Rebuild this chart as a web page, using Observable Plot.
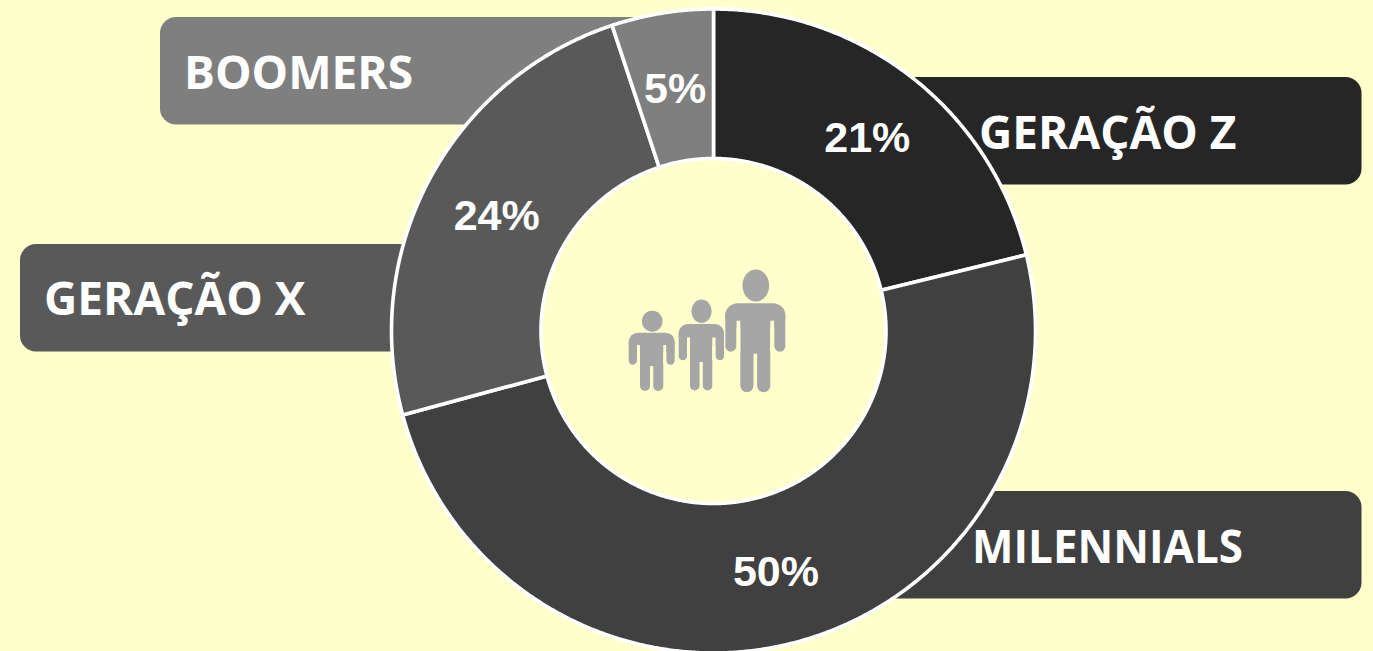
<!DOCTYPE html>
<html>
<head>
<meta charset="utf-8">
<style>html,body{margin:0;padding:0;background:#ffffcc;overflow:hidden}svg{display:block}</style>
<script src="https://cdn.jsdelivr.net/npm/d3@7"></script>
<script src="https://cdn.jsdelivr.net/npm/@observablehq/plot@0.6"></script>
</head>
<body>
<div id="chart"></div>
<script>
// Data
const categories = ["GERAÇÃO Z", "MILENNIALS", "GERAÇÃO X", "BOOMERS"];
const shares = [21.2, 49.6, 24.1, 5.1];
const percentLabels = ["21%", "50%", "24%", "5%"];
const colors = ["#262626", "#404040", "#595959", "#7f7f7f"];

// Layout
const W = 1373, H = 651;
const cx = 713, cy = 330.5, outerR = 322, innerR = 172.5;
const boxLayout = [
  {x1: 890, x2: 1361.5, y1: 77, y2: 184.5, tx: 978.5, ty: 133.5},
  {x1: 860, x2: 1361.5, y1: 491, y2: 598.5, tx: 971.5, ty: 548},
  {x1: 20, x2: 430, y1: 244, y2: 351.5, tx: 43.5, ty: 300},
  {x1: 160, x2: 660, y1: 17, y2: 124.5, tx: 183.5, ty: 73.5}
];

// Ring segments from shares
const total = d3.sum(shares);
const pieces = [];
const labelPos = [];
let running = 0;
categories.forEach((category, i) => {
  const a0 = running / total * 2 * Math.PI;
  running += shares[i];
  const a1 = running / total * 2 * Math.PI;
  const n = Math.max(8, Math.ceil((a1 - a0) / 0.006));
  const polar = (r, a) => ({category, x: cx + r * Math.sin(a), y: cy - r * Math.cos(a)});
  for (let k = 0; k <= n; ++k) pieces.push(polar(outerR, a0 + (a1 - a0) * k / n));
  for (let k = n; k >= 0; --k) pieces.push(polar(innerR, a0 + (a1 - a0) * k / n));
  const mid = (a0 + a1) / 2, rm = (outerR + innerR) / 2;
  labelPos.push({text: percentLabels[i], x: cx + 1 + rm * Math.sin(mid), y: cy - rm * Math.cos(mid) + 2});
});

const boxes = categories.map((category, i) => ({category, ...boxLayout[i]}));

// Icon: three figures
const iconColor = "#a6a6a6";
const figures = [
  {hx: 651.7, hy: 320.7, hrx: 10.3, hry: 10.5, l: 628.7, r: 674.7, top: 332.7, pit: 345, arm: 8.3, armEnd: 364.7, tl: 640, tr: 663.3, crotch: 364, gap: 3.2, foot: 391},
  {hx: 701, hy: 310.7, hrx: 10, hry: 11.7, l: 678.7, r: 724, top: 324, pit: 337.5, arm: 8.3, armEnd: 360.3, tl: 690, tr: 712.3, crotch: 360, gap: 3.2, foot: 390.5},
  {hx: 755.3, hy: 285, hrx: 13.3, hry: 16, l: 725.3, r: 785.3, top: 303.3, pit: 320.7, arm: 11, armEnd: 351.7, tl: 740.3, tr: 770.3, crotch: 351.7, gap: 3.6, foot: 392.3}
];
const shoulders = figures.map(f => ({x1: f.l, x2: f.r, y1: f.top, y2: f.pit + 8, rx: f.arm * 1.1}));
const torsos = figures.map(f => ({x1: f.tl, x2: f.tr, y1: f.top + 4, y2: f.crotch + 2}));
const pitGaps = figures.flatMap(f => [
  {x1: f.l + f.arm, x2: f.tl, y1: f.pit, y2: f.armEnd + 6},
  {x1: f.tr, x2: f.r - f.arm, y1: f.pit, y2: f.armEnd + 6}
]);
const limbs = figures.flatMap(f => {
  const mid = (f.tl + f.tr) / 2;
  const legW = mid - f.gap / 2 - f.tl;
  return [
    {x1: f.l, x2: f.l + f.arm, y1: f.top + 6, y2: f.armEnd, rx: f.arm / 2},
    {x1: f.r - f.arm, x2: f.r, y1: f.top + 6, y2: f.armEnd, rx: f.arm / 2},
    {x1: f.tl, x2: mid - f.gap / 2, y1: f.crotch - 4, y2: f.foot, rx: legW / 2},
    {x1: mid + f.gap / 2, x2: f.tr, y1: f.crotch - 4, y2: f.foot, rx: legW / 2}
  ];
});
const heads = figures.flatMap((f, j) => d3.range(73).map(k => ({
  j, x: f.hx + f.hrx * Math.cos(k / 36 * Math.PI), y: f.hy + f.hry * Math.sin(k / 36 * Math.PI)
})));
const rectOf = (r, fill) => Plot.rect([r], {x1: "x1", x2: "x2", y1: "y1", y2: "y2", fill, rx: r.rx ?? 0});

const chart = Plot.plot({
  width: W, height: H,
  margin: 0,
  style: {background: "#ffffcc"},
  x: {domain: [0, W], range: [0, W], axis: null},
  y: {domain: [0, H], range: [0, H], axis: null},
  color: {type: "ordinal", domain: categories, range: colors},
  marks: [
    Plot.rect(boxes, {x1: "x1", x2: "x2", y1: "y1", y2: "y2", fill: "category", rx: 16}),
    Plot.line(pieces, {x: "x", y: "y", z: "category", fill: "category", stroke: "#ffffff", strokeWidth: 3.6, curve: "linear-closed"}),
    Plot.text(boxes, {x: "tx", y: "ty", text: "category", fill: "#ffffff", textAnchor: "start", fontSize: 46, fontWeight: 700, fontFamily: "Open Sans"}),
    Plot.text(labelPos, {x: "x", y: "y", text: "text", fill: "#ffffff", fontSize: 43, fontWeight: 700, fontFamily: "Liberation Sans"}),
    ...shoulders.map(r => rectOf(r, iconColor)),
    ...torsos.map(r => rectOf(r, iconColor)),
    Plot.rect(pitGaps, {x1: "x1", x2: "x2", y1: "y1", y2: "y2", fill: "#ffffcc"}),
    ...limbs.map(r => rectOf(r, iconColor)),
    Plot.line(heads, {x: "x", y: "y", z: "j", fill: iconColor, stroke: "none", curve: "linear-closed"})
  ]
});
document.getElementById("chart").appendChild(chart);
// The reference's MILENNIALS is set narrower than the others
chart.querySelectorAll("text").forEach(t => {
  if (t.textContent === "MILENNIALS") {
    t.setAttribute("textLength", 271);
    t.setAttribute("lengthAdjust", "spacingAndGlyphs");
  }
});
</script>
</body>
</html>
